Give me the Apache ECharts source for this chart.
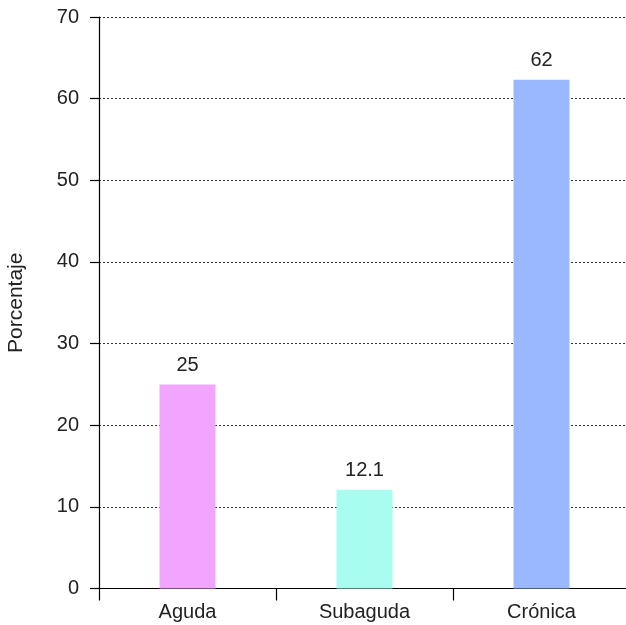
<!DOCTYPE html>
<html>
<head>
<meta charset="utf-8">
<script src="https://cdn.jsdelivr.net/npm/echarts@6/dist/echarts.min.js"></script>
<style>
  html, body { margin: 0; padding: 0; background: #fff; }
  #chart { width: 626px; height: 625px; }
</style>
</head>
<body>
<div id="chart"></div>
<script>
const categories = ['Aguda', 'Subaguda', 'Crónica'];
const values = [25, 12.1, 62.3];
const valueLabels = ['25', '12.1', '62'];
const barColors = ['#F1A5FE', '#A8FCF0', '#99B8FF'];

const myChart = echarts.init(document.getElementById('chart'), null, { renderer: 'canvas' });
const font = 'Liberation Sans, Arial, sans-serif';

myChart.setOption({
  animation: false,
  grid: { left: 99, top: 17, width: 531, height: 571.5, outerBoundsMode: 'none', containLabel: false },
  xAxis: {
    type: 'category',
    data: categories,
    axisLine: { lineStyle: { color: '#000', width: 1.2 } },
    axisTick: { show: true, length: 12, alignWithLabel: false, lineStyle: { color: '#000', width: 1.2 } },
    axisLabel: { color: '#222', fontSize: 20, fontFamily: font, margin: 14 },
  },
  yAxis: {
    type: 'value',
    min: 0,
    max: 70,
    interval: 10,
    name: 'Porcentaje',
    nameLocation: 'middle',
    nameGap: 72,
    nameTextStyle: { color: '#222', fontSize: 21, fontFamily: font },
    axisLine: { show: true, lineStyle: { color: '#000', width: 1.2 } },
    axisTick: { show: true, length: 9, lineStyle: { color: '#000', width: 1.2 } },
    axisLabel: { color: '#222', fontSize: 20, fontFamily: font, margin: 20 },
    splitLine: { show: true, lineStyle: { color: '#333', type: [2, 2], width: 1 } },
  },
  series: [{
    type: 'bar',
    barWidth: 56,
    data: values.map((v, i) => ({ value: v, itemStyle: { color: barColors[i] } })),
    label: {
      show: true,
      position: 'top',
      distance: 9,
      color: '#222',
      fontSize: 20,
      fontFamily: font,
      formatter: (p) => valueLabels[p.dataIndex],
    },
  }],
});
</script>
</body>
</html>
